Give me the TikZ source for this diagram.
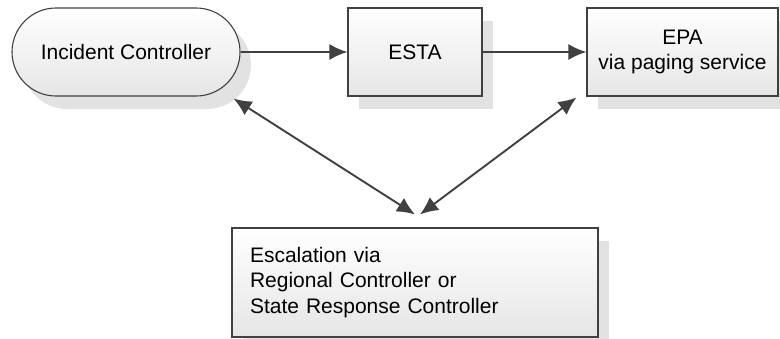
\documentclass[tikz,border=0pt]{standalone}
\usepackage{fontspec}
\setmainfont{Liberation Sans}
\usetikzlibrary{arrows.meta,shadows}
\definecolor{linegray}{HTML}{404040}
\definecolor{shadowgray}{HTML}{E2E2E2}
\tikzset{
  boxed/.style={draw=linegray,line width=1.1pt,top color=white,bottom color=black!10,
    minimum height=88pt,inner sep=0pt,align=center,
    drop shadow={shadow xshift=11pt,shadow yshift=-13pt,fill=shadowgray,opacity=1}},
  link/.style={draw=linegray,line width=1.9pt,-{Latex[length=18pt,width=16pt]}},
  twoway/.style={link,{Latex[length=18pt,width=16pt]}-{Latex[length=18pt,width=16pt]}}
}
\begin{document}
\begin{tikzpicture}[x=1pt,y=-1pt,font=\fontsize{21}{25.5}\selectfont]
      \useasboundingbox (0,0) rectangle (780,338);
      \begin{scope}[every node/.style={boxed}]
        \node[rounded corners=44pt,minimum width=228pt] (ic) at (126,52) {Incident Controller};
        \node[minimum width=134pt] (esta) at (415,52) {ESTA};
        \node[minimum width=191pt] (epa) at (682.5,52) {EPA\\via paging service};
        \node[minimum height=109pt,text width=330pt,inner xsep=18pt,align=left] (esc) at (415,282.5)
          {Escalation via\\Regional Controller or\\State Response Controller};
      \end{scope}
      \begin{scope}[every edge/.style={link}]
        \path (ic) edge (esta);
        \path (esta) edge (epa);
      \end{scope}
      \begin{scope}[every edge/.style={twoway}]
        \path ([xshift=-7pt,yshift=-2pt]ic.south east) edge ([xshift=0pt,yshift=13pt]esc.north);
        \path ([xshift=5pt,yshift=13pt]esc.north) edge ([xshift=-10pt,yshift=-1pt]epa.south west);
      \end{scope}
    \end{tikzpicture}
\end{document}
